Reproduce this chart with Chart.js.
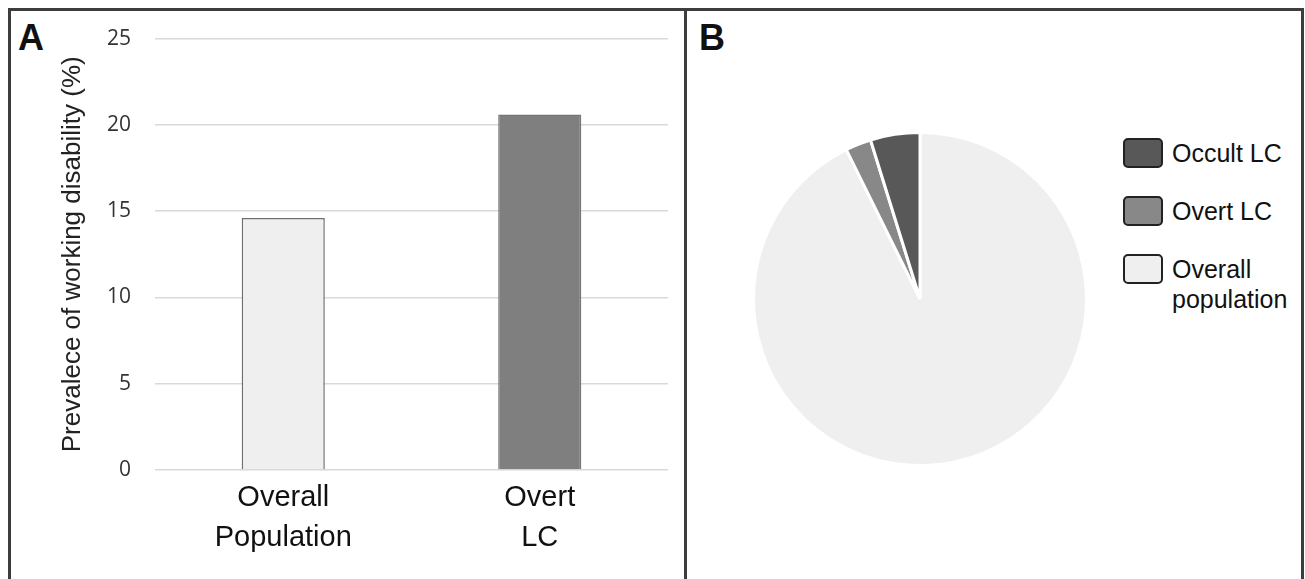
<!DOCTYPE html>
<html>
<head>
<meta charset="utf-8">
<script src="https://cdn.jsdelivr.net/npm/chart.js@4.4.1/dist/chart.umd.min.js"></script>
<style>
  html, body { margin: 0; padding: 0; background: #fff; }
  body { width: 1305px; height: 579px; position: relative; overflow: hidden; font-family: "Liberation Sans", Arial, sans-serif; }
  #frame { position: absolute; left: 8px; top: 8px; width: 1290px; height: 580px; border: 3px solid #3d3d3d; border-bottom: none; }
  #divider { position: absolute; left: 684px; top: 8px; width: 3px; height: 580px; background: #3d3d3d; }
  .panel-label { position: absolute; font-weight: bold; font-size: 36px; line-height: 1; color: #111; }
  #barWrap { position: absolute; left: 12px; top: 2px; width: 672px; height: 577px; }
  #pieWrap { position: absolute; left: 747px; top: 126px; width: 346px; height: 346px; }
  #legend { position: absolute; left: 1123px; top: 138px; }
  .item { position: relative; height: 58px; }
  .swatch { position: absolute; left: 0; top: 0; width: 36px; height: 26px; border: 2px solid #222; border-radius: 5px; }
  .label { position: absolute; left: 49px; top: 0px; font-size: 25px; line-height: 30px; color: #111; white-space: nowrap; }
</style>
</head>
<body>
<div id="frame"></div>
<div id="divider"></div>
<div class="panel-label" style="left:18px; top:20px;">A</div>
<div class="panel-label" style="left:699px; top:20px;">B</div>
<div id="barWrap"><canvas id="bar"></canvas></div>
<div id="pieWrap"><canvas id="pie"></canvas></div>
<div id="legend"></div>

<script>
// panel A: bar chart
const barCategories = [["Overall", "Population"], ["Overt", "LC"]];
const barValues = [14.6, 20.6];
const barColors = ["#efefef", "#7f7f7f"];
const barBorders = ["#6e6e6e", "#767676"];
const yTitle = "Prevalece of working disability (%)";

// panel B: pie chart (legend order top to bottom)
const pieLabels = ["Occult LC", "Overt LC", "Overall population"];
const pieValues = [4.8, 2.5, 92.7];
const pieColors = ["#585858", "#888888", "#efefef"];

new Chart(document.getElementById("bar"), {
  type: "bar",
  data: {
    labels: barCategories,
    datasets: [{
      data: barValues,
      backgroundColor: barColors,
      borderColor: barBorders,
      borderWidth: 1.5,
      barPercentage: 0.324,
      categoryPercentage: 1
    }]
  },
  options: {
    responsive: true,
    maintainAspectRatio: false,
    animation: false,
    layout: { padding: { left: 0, right: 16, top: 16, bottom: 0 } },
    plugins: { legend: { display: false }, tooltip: { enabled: false } },
    scales: {
      x: {
        grid: { display: false, drawTicks: false },
        border: { display: false },
        ticks: {
          color: "#111",
          padding: 8,
          font: { family: "Liberation Sans", size: 29, lineHeight: 1.38 }
        },
        afterFit: (s) => { s.height = 109; }
      },
      y: {
        min: 0,
        max: 25,
        ticks: {
          stepSize: 5,
          color: "#333",
          padding: 24,
          font: { family: "Open Sans", size: 21 }
        },
        grid: { color: "#d9d9d9", lineWidth: 1.5, drawTicks: false },
        border: { display: false },
        title: {
          display: true,
          text: yTitle,
          color: "#222",
          padding: { top: 45, bottom: 0 },
          font: { family: "Liberation Sans", size: 26 }
        },
        afterFit: (s) => { s.width = 143; }
      }
    }
  }
});

// pie: drawn in reverse so the big slice starts at 12 o'clock clockwise
new Chart(document.getElementById("pie"), {
  type: "pie",
  data: {
    labels: pieLabels.slice().reverse(),
    datasets: [{
      data: pieValues.slice().reverse(),
      backgroundColor: pieColors.slice().reverse(),
      borderColor: "#ffffff",
      borderWidth: 3
    }]
  },
  options: {
    responsive: true,
    maintainAspectRatio: false,
    animation: false,
    layout: { padding: 5 },
    plugins: { legend: { display: false }, tooltip: { enabled: false } }
  }
});

// legend
const legend = document.getElementById("legend");
pieLabels.forEach((name, i) => {
  const item = document.createElement("div");
  item.className = "item";
  const sw = document.createElement("div");
  sw.className = "swatch";
  sw.style.background = pieColors[i];
  const lb = document.createElement("div");
  lb.className = "label";
  lb.innerHTML = name === "Overall population" ? "Overall<br>population" : name;
  item.appendChild(sw);
  item.appendChild(lb);
  legend.appendChild(item);
});
</script>
</body>
</html>
